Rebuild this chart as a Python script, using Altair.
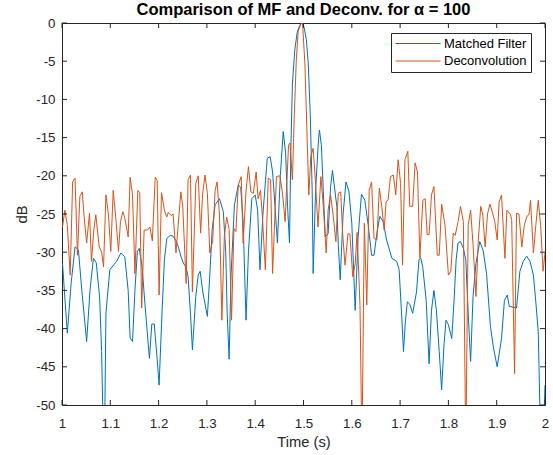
import altair as alt
import pandas as pd

# ---------------- data ----------------
mf_t = [1.001, 1.011, 1.019, 1.027, 1.034, 1.041, 1.051, 1.058, 1.065, 1.071,
        1.078, 1.082, 1.086, 1.088, 1.091, 1.099, 1.113, 1.122, 1.130, 1.137,
        1.141, 1.146, 1.151, 1.156, 1.160, 1.166, 1.172, 1.181, 1.186, 1.191,
        1.197, 1.201, 1.207, 1.212, 1.217, 1.224, 1.230, 1.236, 1.241, 1.246,
        1.251, 1.257, 1.261, 1.266, 1.270, 1.277, 1.282, 1.286, 1.292, 1.301,
        1.306, 1.311, 1.317, 1.326, 1.334, 1.339, 1.342, 1.346, 1.350, 1.357,
        1.365, 1.370, 1.375, 1.381, 1.386, 1.393, 1.400, 1.405, 1.410, 1.416,
        1.425, 1.431, 1.436, 1.441, 1.446, 1.452, 1.458, 1.463, 1.467, 1.471,
        1.474, 1.477, 1.482, 1.487, 1.492, 1.496, 1.501, 1.506, 1.510, 1.514,
        1.518, 1.520, 1.525, 1.531, 1.533, 1.537, 1.541, 1.545, 1.551, 1.556,
        1.560, 1.569, 1.572, 1.576, 1.582, 1.588, 1.594, 1.600, 1.607, 1.613,
        1.620, 1.627, 1.634, 1.641, 1.646, 1.652, 1.658, 1.665, 1.672, 1.683,
        1.693, 1.698, 1.703, 1.707, 1.711, 1.715, 1.720, 1.726, 1.734, 1.739,
        1.743, 1.747, 1.754, 1.760, 1.765, 1.770, 1.775, 1.781, 1.786, 1.791,
        1.795, 1.800, 1.807, 1.812, 1.816, 1.820, 1.825, 1.831, 1.836, 1.841,
        1.846, 1.851, 1.857, 1.865, 1.872, 1.879, 1.887, 1.893, 1.901, 1.910,
        1.916, 1.922, 1.926, 1.934, 1.941, 1.948, 1.955, 1.962, 1.969, 1.976,
        1.981, 1.986, 1.991, 1.996, 2.000]
mf_db = [-31.4, -40.6, -34.0, -29.3, -29.7, -35.0, -41.7, -35.0, -30.8, -31.4,
         -36.0, -43.0, -55.0, -55.0, -38.0, -32.3, -31.2, -30.1, -30.6, -35.0,
         -41.2, -41.7, -35.0, -29.9, -29.5, -32.0, -37.0, -43.9, -39.4, -39.4,
         -44.0, -47.4, -38.0, -31.0, -28.2, -27.8, -27.9, -28.5, -29.3, -30.5,
         -31.4, -32.0, -33.2, -38.0, -42.8, -35.8, -33.0, -32.5, -35.4, -38.4,
         -33.0, -27.0, -23.8, -23.0, -24.7, -30.0, -38.0, -44.0, -33.0, -23.8,
         -21.2, -21.5, -26.0, -38.9, -30.0, -23.0, -22.5, -24.5, -32.3, -25.0,
         -17.7, -17.5, -19.5, -24.0, -28.8, -20.0, -14.2, -17.0, -24.0, -28.8,
         -16.0, -8.0, -3.5, -1.2, -0.3, 0.0, -0.5, -2.2, -5.5, -12.0,
         -22.0, -32.8, -22.0, -15.3, -14.0, -16.0, -22.0, -28.0, -27.6, -21.5,
         -19.3, -24.0, -29.0, -33.6, -25.0, -20.8, -22.0, -26.2, -37.6, -28.0,
         -22.4, -23.2, -26.5, -30.4, -30.4, -27.5, -25.3, -26.0, -28.4, -30.8,
         -31.2, -32.3, -38.0, -43.0, -39.0, -36.5, -36.8, -38.0, -35.2, -31.0,
         -30.8, -32.0, -36.3, -44.6, -37.6, -35.0, -37.5, -43.0, -48.0, -42.0,
         -38.9, -39.5, -41.3, -36.0, -31.0, -28.8, -28.6, -29.5, -31.0, -38.0,
         -44.3, -35.8, -31.5, -28.6, -29.8, -32.8, -39.7, -42.4, -45.0, -41.3,
         -36.3, -35.6, -37.1, -37.2, -37.3, -32.5, -31.2, -30.5, -31.2, -33.0,
         -36.5, -40.4, -55.0, -55.0, -47.4]

dc_t = [1.001, 1.006, 1.011, 1.017, 1.022, 1.027, 1.032, 1.037, 1.042, 1.046,
        1.051, 1.057, 1.061, 1.066, 1.070, 1.077, 1.082, 1.086, 1.091, 1.096,
        1.101, 1.106, 1.112, 1.117, 1.121, 1.126, 1.130, 1.137, 1.141, 1.146,
        1.151, 1.157, 1.161, 1.165, 1.170, 1.177, 1.182, 1.187, 1.193, 1.197,
        1.201, 1.206, 1.212, 1.217, 1.220, 1.226, 1.230, 1.236, 1.246, 1.250,
        1.257, 1.261, 1.266, 1.270, 1.277, 1.282, 1.287, 1.291, 1.296, 1.301,
        1.306, 1.312, 1.317, 1.321, 1.326, 1.331, 1.336, 1.341, 1.346, 1.351,
        1.356, 1.360, 1.365, 1.371, 1.375, 1.381, 1.386, 1.391, 1.396, 1.402,
        1.406, 1.411, 1.415, 1.421, 1.427, 1.432, 1.436, 1.444, 1.451, 1.456,
        1.462, 1.469, 1.472, 1.477, 1.481, 1.485, 1.489, 1.494, 1.498, 1.503,
        1.507, 1.511, 1.515, 1.520, 1.525, 1.530, 1.536, 1.541, 1.547, 1.551,
        1.556, 1.562, 1.567, 1.572, 1.577, 1.581, 1.586, 1.592, 1.596, 1.602,
        1.607, 1.611, 1.617, 1.621, 1.626, 1.631, 1.636, 1.641, 1.646, 1.652,
        1.657, 1.662, 1.667, 1.671, 1.675, 1.680, 1.686, 1.691, 1.696, 1.701,
        1.705, 1.710, 1.716, 1.720, 1.726, 1.731, 1.736, 1.741, 1.747, 1.752,
        1.756, 1.760, 1.765, 1.770, 1.777, 1.781, 1.786, 1.793, 1.800, 1.805,
        1.810, 1.814, 1.820, 1.825, 1.831, 1.836, 1.841, 1.846, 1.851, 1.857,
        1.862, 1.867, 1.871, 1.876, 1.881, 1.886, 1.892, 1.896, 1.901, 1.905,
        1.910, 1.917, 1.921, 1.928, 1.931, 1.937, 1.941, 1.946, 1.952, 1.957,
        1.962, 1.967, 1.970, 1.976, 1.981, 1.986, 1.991, 1.996, 2.000]
dc_db = [-26.7, -24.5, -26.5, -33.0, -20.8, -20.3, -30.4, -22.7, -22.1, -25.5,
         -28.8, -24.9, -31.2, -27.0, -25.1, -29.3, -30.0, -31.9, -22.5, -25.0,
         -29.9, -21.9, -26.0, -29.9, -26.0, -24.7, -25.5, -28.0, -20.2, -22.5,
         -32.8, -21.9, -22.2, -37.3, -27.1, -27.1, -26.7, -28.5, -20.2, -20.6,
         -35.6, -22.2, -24.5, -25.4, -24.8, -25.2, -25.0, -30.1, -22.1, -24.0,
         -34.1, -20.5, -19.9, -35.2, -21.0, -20.0, -27.5, -22.5, -19.9, -22.3,
         -30.1, -28.5, -21.9, -20.8, -25.0, -38.9, -28.0, -25.4, -27.0, -38.9,
         -26.9, -27.3, -21.2, -20.1, -28.8, -22.0, -18.8, -22.1, -22.3, -19.5,
         -23.0, -21.9, -25.5, -32.3, -20.3, -20.5, -32.8, -20.1, -20.0, -22.0,
         -26.0, -16.0, -15.7, -20.5, -12.0, -5.0, -1.1, -0.2, 0.0, -5.5,
         -14.0, -22.5, -17.5, -16.4, -21.0, -26.7, -20.1, -24.0, -30.1, -24.5,
         -22.5, -25.5, -28.6, -22.3, -22.1, -27.5, -31.7, -27.6, -27.6, -33.2,
         -31.5, -27.4, -37.0, -56.0, -26.2, -36.9, -21.9, -20.8, -28.2, -28.4,
         -21.6, -24.0, -27.1, -23.4, -23.2, -20.1, -19.9, -22.5, -17.9, -21.0,
         -31.7, -17.9, -16.8, -24.0, -24.0, -18.3, -19.5, -30.8, -23.2, -23.0,
         -27.7, -27.7, -22.5, -21.4, -30.4, -30.4, -23.7, -26.5, -33.0, -32.5,
         -27.5, -27.8, -26.0, -24.0, -26.0, -56.0, -26.4, -24.5, -29.0, -35.8,
         -28.3, -24.0, -25.0, -29.3, -25.0, -23.7, -25.0, -26.0, -28.4, -23.4,
         -22.5, -30.8, -24.5, -25.0, -25.7, -45.9, -24.9, -25.0, -29.3, -26.5,
         -25.4, -25.0, -23.2, -30.1, -26.5, -23.2, -26.5, -32.5, -30.1]

series_names = ["Matched Filter", "Deconvolution"]
series_colors = ["#0072BD", "#D95319"]
x_ticks = [1, 1.1, 1.2, 1.3, 1.4, 1.5, 1.6, 1.7, 1.8, 1.9, 2]
y_ticks = [0, -5, -10, -15, -20, -25, -30, -35, -40, -45, -50]

# ---------------- build tables ----------------
mf = pd.DataFrame({"t": mf_t, "db": mf_db, "series": series_names[0], "k": range(len(mf_t))})
dc = pd.DataFrame({"t": dc_t, "db": dc_db, "series": series_names[1], "k": range(len(dc_t))})
xt = pd.DataFrame({"v": x_ticks})
yt = pd.DataFrame({"v": y_ticks})

W, H = 483, 382
AX = "#262626"
FONT = "Liberation Sans"

xscale = alt.Scale(domain=[1, 2], nice=False, zero=False)
yscale = alt.Scale(domain=[-50, 0], nice=False, zero=False)
cscale = alt.Scale(domain=series_names, range=series_colors)

common_axis = dict(ticks=False, grid=False, domain=False, labelOverlap=False,
                   labelFlush=False, labelBound=False, labelFont=FONT,
                   labelFontSize=13.3, labelColor=AX, titleFont=FONT,
                   titleFontSize=14.7, titleColor=AX, titleFontWeight="normal")

xaxis = alt.Axis(values=x_ticks, labelExpr="toString(datum.value)",
                 labelPadding=11, title="Time (s)", titlePadding=5.5, **common_axis)
yaxis = alt.Axis(values=y_ticks, labelExpr="toString(datum.value)",
                 labelPadding=7, title="dB", titlePadding=6, **common_axis)

legend = alt.Legend(title=None, orient="none", legendX=329, legendY=10,
                    symbolType="stroke", symbolSize=2025, symbolStrokeWidth=1,
                    clipHeight=13, rowPadding=3.5, labelOffset=3,
                    labelFontSize=13, labelFont=FONT, labelColor="black",
                    strokeColor=AX, fillColor="white", padding=4,
                    cornerRadius=0, symbolOffset=0)

def line_layer(df):
    return alt.Chart(df).mark_line(strokeWidth=1, clip=True).encode(
        x=alt.X("t:Q", scale=xscale, axis=xaxis),
        y=alt.Y("db:Q", scale=yscale, axis=yaxis),
        color=alt.Color("series:N", scale=cscale, legend=legend),
        order="k:Q",
    )

blue = line_layer(mf)
orange = line_layer(dc)

tick_len = 5
bottom_ticks = alt.Chart(xt).mark_rule(color=AX, strokeWidth=1).encode(
    x=alt.X("v:Q", scale=xscale, axis=xaxis), y=alt.value(H), y2=alt.value(H - tick_len))
top_ticks = alt.Chart(xt).mark_rule(color=AX, strokeWidth=1).encode(
    x=alt.X("v:Q", scale=xscale, axis=xaxis), y=alt.value(0), y2=alt.value(tick_len))
left_ticks = alt.Chart(yt).mark_rule(color=AX, strokeWidth=1).encode(
    y=alt.Y("v:Q", scale=yscale, axis=yaxis), x=alt.value(0), x2=alt.value(tick_len))
right_ticks = alt.Chart(yt).mark_rule(color=AX, strokeWidth=1).encode(
    y=alt.Y("v:Q", scale=yscale, axis=yaxis), x=alt.value(W), x2=alt.value(W - tick_len))

chart = alt.layer(blue, orange, bottom_ticks, top_ticks, left_ticks, right_ticks).properties(
    width=W, height=H,
    background="white",
    title=alt.TitleParams(text="Comparison of MF and Deconv. for \u03b1 = 100",
                          fontSize=16.5, fontWeight="bold", font=FONT,
                          color="black", anchor="middle", offset=-2),
    autosize=alt.AutoSizeParams(type="none"),
    padding={"left": 62, "top": 23, "right": 8, "bottom": 50},
).configure_view(stroke=AX, strokeWidth=1)

chart.save("out.html", embed_options={"renderer": "svg", "actions": False})
